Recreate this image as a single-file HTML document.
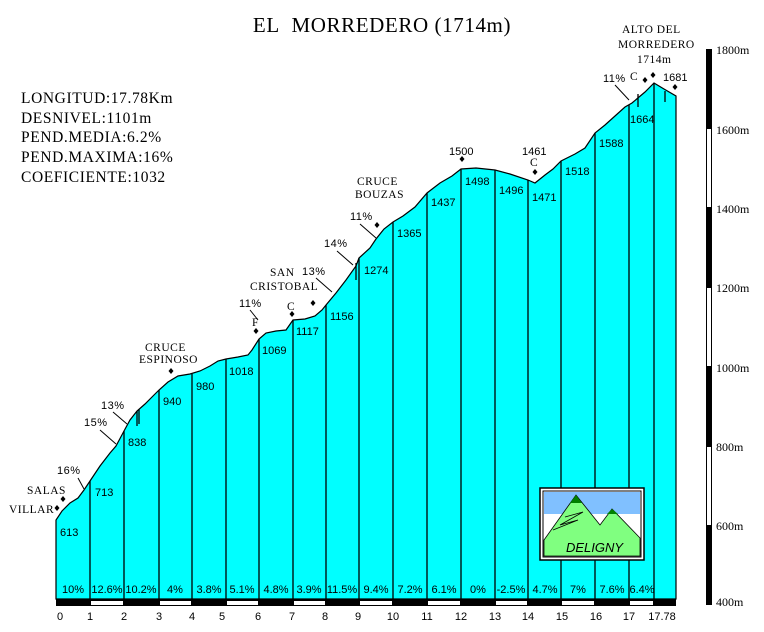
<!DOCTYPE html>
<html><head><meta charset="utf-8"><style>
html,body{margin:0;padding:0;background:#fff;}
svg{display:block;}
.s{font-family:"Liberation Serif",serif;}
.n{font-family:"Liberation Sans",sans-serif;font-size:11px;}
.a{font-family:"Liberation Serif",serif;font-size:11.5px;letter-spacing:0.5px;}
</style></head><body>
<svg width="764" height="632" viewBox="0 0 764 632" xmlns="http://www.w3.org/2000/svg">
<text x="382" y="32" class="s" font-size="21" text-anchor="middle" letter-spacing="0.6">EL&#160;&#160;MORREDERO (1714m)</text>
<g class="s" font-size="15.5" letter-spacing="0.6">
<text x="21" y="103">LONGITUD:17.78Km</text>
<text x="21" y="123">DESNIVEL:1101m</text>
<text x="21" y="142">PEND.MEDIA:6.2%</text>
<text x="21" y="162">PEND.MAXIMA:16%</text>
<text x="21" y="182">COEFICIENTE:1032</text>
</g>
<!-- profile -->
<polygon fill="#00ffff" stroke="#000" stroke-width="1.2" points="56,599 56,520 62,511 70,503 78,498 84,490 90,481 100,466 110,453 116,446 124,431 130,420 137,411 145,404 152,397 159,390 168,382 178,376 190,374 200,371 210,366 218,361 226,359 238,357 248,355 252,350 259,339 266,333 276,331 286,330 293,320 305,319 315,316 322,310 326,305 336,293 346,280 356,266 359,258 370,248 376,239 384,229 393,222 403,216 415,207 427,193 440,183 452,176 461,169 476,168 495,170 510,174 528,180 535,183 545,175 553,169 561,161 575,154 585,148 595,133 605,125 615,116 625,107 632,103 645,92 654,83 664,89 676,96 676,599"/>
<g stroke="#000" stroke-width="1.3">
<line x1="90" y1="481" x2="90" y2="599"/><line x1="124" y1="431" x2="124" y2="599"/>
<line x1="159" y1="390" x2="159" y2="599"/><line x1="192" y1="374" x2="192" y2="599"/>
<line x1="226" y1="359" x2="226" y2="599"/><line x1="259" y1="339" x2="259" y2="599"/>
<line x1="293" y1="320" x2="293" y2="599"/><line x1="326" y1="305" x2="326" y2="599"/>
<line x1="359" y1="258" x2="359" y2="599"/><line x1="393" y1="222" x2="393" y2="599"/>
<line x1="427" y1="193" x2="427" y2="599"/><line x1="461" y1="169" x2="461" y2="599"/>
<line x1="495" y1="170" x2="495" y2="599"/><line x1="528" y1="180" x2="528" y2="599"/>
<line x1="561" y1="161" x2="561" y2="599"/><line x1="595" y1="133" x2="595" y2="599"/>
<line x1="629" y1="105" x2="629" y2="599"/><line x1="654" y1="83" x2="654" y2="599"/>
<line x1="137" y1="411" x2="137" y2="426"/><line x1="139" y1="409" x2="139" y2="424"/>
<line x1="356" y1="263" x2="356" y2="280"/>
<line x1="638" y1="94" x2="638" y2="107"/><line x1="665" y1="91" x2="665" y2="102"/>
</g>
<!-- bottom bar -->
<rect x="56" y="599" width="620" height="7" fill="#000"/>
<g fill="#fff"><rect x="91" y="601" width="32" height="4"/><rect x="160" y="601" width="31" height="4"/><rect x="227" y="601" width="31" height="4"/><rect x="294" y="601" width="31" height="4"/><rect x="360" y="601" width="32" height="4"/><rect x="428" y="601" width="32" height="4"/><rect x="496" y="601" width="31" height="4"/><rect x="562" y="601" width="32" height="4"/><rect x="630" y="601" width="23" height="4"/></g>
<!-- elevations -->
<g class="n">
<text x="60" y="536">613</text><text x="95" y="496">713</text><text x="128" y="446">838</text>
<text x="163" y="405">940</text><text x="196" y="390">980</text><text x="229" y="375">1018</text>
<text x="262" y="354">1069</text><text x="296" y="335">1117</text><text x="330" y="320">1156</text>
<text x="364" y="274">1274</text><text x="397" y="237">1365</text><text x="431" y="206">1437</text>
<text x="465" y="185">1498</text><text x="499" y="194">1496</text><text x="532" y="201">1471</text>
<text x="565" y="175">1518</text><text x="599" y="147">1588</text><text x="630" y="123">1664</text>
<text x="449" y="155">1500</text><text x="522" y="155">1461</text><text x="663" y="81">1681</text>
</g>
<!-- percents -->
<g class="n" text-anchor="middle">
<text x="73" y="593">10%</text><text x="107" y="593">12.6%</text><text x="141" y="593">10.2%</text>
<text x="175" y="593">4%</text><text x="209" y="593">3.8%</text><text x="242" y="593">5.1%</text>
<text x="276" y="593">4.8%</text><text x="309" y="593">3.9%</text><text x="342" y="593">11.5%</text>
<text x="376" y="593">9.4%</text><text x="410" y="593">7.2%</text><text x="444" y="593">6.1%</text>
<text x="478" y="593">0%</text><text x="511" y="593">-2.5%</text><text x="545" y="593">4.7%</text>
<text x="578" y="593">7%</text><text x="612" y="593">7.6%</text><text x="642" y="593">6.4%</text>
</g>
<!-- km labels -->
<g class="n" text-anchor="middle">
<text x="60" y="620">0</text><text x="90" y="620">1</text><text x="124" y="620">2</text><text x="159" y="620">3</text>
<text x="192" y="620">4</text><text x="222" y="620">5</text><text x="258" y="620">6</text><text x="292" y="620">7</text>
<text x="325" y="620">8</text><text x="358" y="620">9</text><text x="393" y="620">10</text><text x="427" y="620">11</text>
<text x="461" y="620">12</text><text x="495" y="620">13</text><text x="528" y="620">14</text><text x="562" y="620">15</text>
<text x="596" y="620">16</text><text x="629" y="620">17</text><text x="662" y="620">17.78</text>
</g>
<!-- annotations -->
<g class="a">
<text x="9" y="513">VILLAR</text><text x="27" y="494">SALAS</text>
<text x="57" y="474" class="n">16%</text><text x="84" y="426" class="n">15%</text><text x="101" y="409" class="n">13%</text>
<text x="145" y="351">CRUCE</text><text x="139" y="363">ESPINOSO</text>
<text x="239" y="307" class="n">11%</text><text x="252" y="326">F</text><text x="287" y="310">C</text>
<text x="270" y="276">SAN</text><text x="250" y="290">CRISTOBAL</text><text x="302" y="275" class="n">13%</text>
<text x="324" y="247" class="n">14%</text><text x="350" y="220" class="n">11%</text>
<text x="357" y="185">CRUCE</text><text x="355" y="198">BOUZAS</text>
<text x="530" y="166">C</text>
<text x="622" y="33">ALTO DEL</text><text x="618" y="48">MORREDERO</text><text x="637" y="63">1714m</text>
<text x="603" y="82" class="n">11%</text><text x="630" y="80">C</text>
</g>
<g stroke="#000" stroke-width="1">
<line x1="78" y1="478" x2="84" y2="489"/><line x1="100" y1="430" x2="116" y2="444"/><line x1="113" y1="412" x2="127" y2="424"/>
<line x1="250" y1="310" x2="258" y2="320"/><line x1="316" y1="278" x2="332" y2="292"/>
<line x1="337" y1="251" x2="353" y2="265"/><line x1="360" y1="224" x2="376" y2="238"/>
<line x1="615" y1="85" x2="629" y2="100"/>
</g>
<g fill="#000">
<path d="M57,505 l2.5,3 l-2.5,3 l-2.5,-3z"/><path d="M63,496 l2.5,3 l-2.5,3 l-2.5,-3z"/>
<path d="M171,368 l2.5,3 l-2.5,3 l-2.5,-3z"/><path d="M256,328 l2.5,3 l-2.5,3 l-2.5,-3z"/>
<path d="M292,311 l2.5,3 l-2.5,3 l-2.5,-3z"/><path d="M313,300 l2.5,3 l-2.5,3 l-2.5,-3z"/>
<path d="M377,222 l2.5,3 l-2.5,3 l-2.5,-3z"/><path d="M462,156 l2.5,3 l-2.5,3 l-2.5,-3z"/>
<path d="M535,169 l2.5,3 l-2.5,3 l-2.5,-3z"/><path d="M645,77 l2.5,3 l-2.5,3 l-2.5,-3z"/>
<path d="M653,72 l2.5,3 l-2.5,3 l-2.5,-3z"/><path d="M675,84 l2.5,3 l-2.5,3 l-2.5,-3z"/>
</g>
<!-- y axis -->
<rect x="706" y="49" width="6" height="556" fill="#000"/>
<g fill="#fff"><rect x="707" y="129" width="4" height="78"/><rect x="707" y="288" width="4" height="78"/><rect x="707" y="447" width="4" height="78"/></g>
<g class="s" font-size="12">
<text x="716" y="54">1800m</text><text x="716" y="134">1600m</text><text x="716" y="213">1400m</text>
<text x="716" y="292">1200m</text><text x="716" y="372">1000m</text><text x="716" y="451">800m</text>
<text x="716" y="530">600m</text><text x="716" y="606">400m</text>
</g>
<!-- logo -->
<rect x="540" y="488" width="104" height="72" fill="#fff" stroke="#000" stroke-width="1.5"/>
<rect x="543" y="491" width="98" height="66" fill="#fff" stroke="#000" stroke-width="1"/>
<rect x="544" y="492" width="96" height="22" fill="#80c0ff"/>
<polygon points="544,540 576,495 600,525 612,509 640,538 640,556 544,556" fill="#80ff80" stroke="#000" stroke-width="0.8"/>
<polygon points="570,503 576,495 582,503" fill="#008000"/>
<polygon points="607,514 612,509 618,514" fill="#008000"/>
<path d="M553,530 L578,520 L560,525 L583,512 L565,517" stroke="#000" fill="none" stroke-width="0.8"/>
<text x="566" y="552" font-family="Liberation Sans,sans-serif" font-style="italic" font-size="13" fill="#000">DELIGNY</text>
</svg>
</body></html>
